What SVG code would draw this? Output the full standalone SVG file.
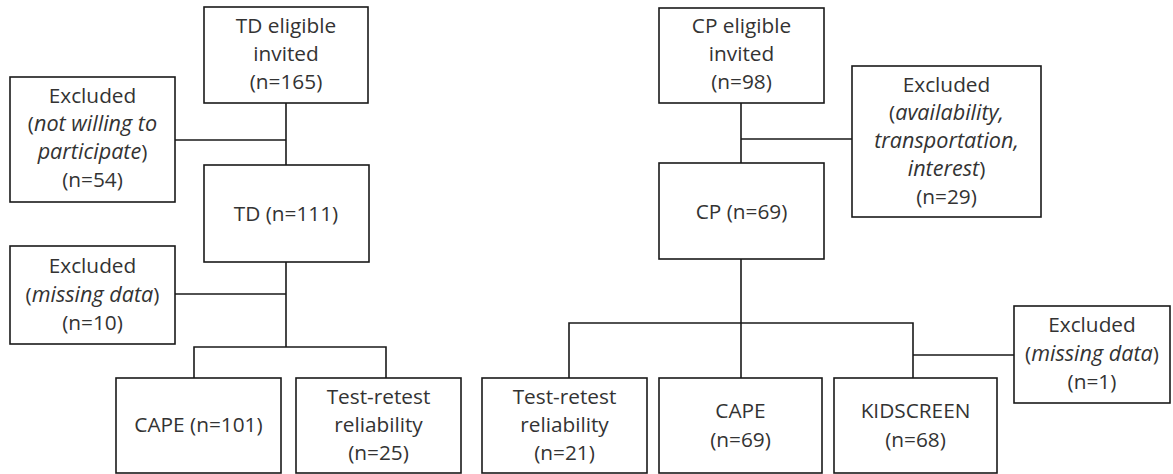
<svg xmlns="http://www.w3.org/2000/svg" width="1173" height="474" viewBox="0 0 1173 474">
<style>
rect{fill:#fff;stroke:#1a1a1a;stroke-width:1.6}
text{font-family:"Open Sans","Liberation Sans",sans-serif;font-size:20.8px;fill:#333;text-anchor:middle}
.i{font-style:italic;font-size:21.6px}
#connectors path{fill:none;stroke:#1a1a1a;stroke-width:1.6}
</style>
<rect width="1173" height="474" style="fill:#fff;stroke:none"/>
<g id="connectors">
<path d="M286 103V165M175 140H286"/>
<path d="M286 262V347M175 294H286M194 378V347H386V378"/>
<path d="M741 103V163M741 139H852"/>
<path d="M741 259V378M569 378V323H913V378M913 355H1014"/>
</g>
<g id="td-invited"><rect x="204" y="7" width="164" height="96"/>
<text x="286" y="33">TD eligible</text><text x="286" y="61">invited</text><text x="286" y="89">(n=165)</text></g>
<g id="td-excluded1"><rect x="10" y="77" width="165" height="125"/>
<text x="92.5" y="103">Excluded</text><text x="92.5" y="131">(<tspan class="i">not willing to</tspan></text><text x="92.5" y="159"><tspan class="i">participate</tspan>)</text><text x="92.5" y="187">(n=54)</text></g>
<g id="td"><rect x="204" y="165" width="165" height="97"/>
<text x="286" y="221">TD (n=111)</text></g>
<g id="td-excluded2"><rect x="10" y="246" width="165" height="98"/>
<text x="92.5" y="273">Excluded</text><text x="92.5" y="302">(<tspan class="i">missing data</tspan>)</text><text x="92.5" y="330">(n=10)</text></g>
<g id="td-cape"><rect x="116" y="378" width="165" height="95"/>
<text x="198.5" y="432">CAPE (n=101)</text></g>
<g id="td-retest"><rect x="296" y="378" width="165" height="95"/>
<text x="378.5" y="404">Test-retest</text><text x="378.5" y="432">reliability</text><text x="378.5" y="460">(n=25)</text></g>
<g id="cp-invited"><rect x="659" y="8" width="165" height="95"/>
<text x="741.5" y="33">CP eligible</text><text x="741.5" y="61">invited</text><text x="741.5" y="89">(n=98)</text></g>
<g id="cp-excluded1"><rect x="852" y="66" width="189" height="151"/>
<text x="946.5" y="92">Excluded</text><text x="946.5" y="120">(<tspan class="i">availability,</tspan></text><text x="946.5" y="148" class="i">transportation,</text><text x="946.5" y="176"><tspan class="i">interest</tspan>)</text><text x="946.5" y="204">(n=29)</text></g>
<g id="cp"><rect x="659" y="163" width="165" height="96"/>
<text x="741.5" y="219">CP (n=69)</text></g>
<g id="cp-retest"><rect x="482" y="378" width="165" height="95"/>
<text x="564.5" y="404">Test-retest</text><text x="564.5" y="432">reliability</text><text x="564.5" y="460">(n=21)</text></g>
<g id="cp-cape"><rect x="659" y="378" width="163" height="95"/>
<text x="740.5" y="418">CAPE</text><text x="740.5" y="447">(n=69)</text></g>
<g id="cp-kidscreen"><rect x="834" y="378" width="163" height="95"/>
<text x="915.5" y="418">KIDSCREEN</text><text x="915.5" y="447">(n=68)</text></g>
<g id="cp-excluded2"><rect x="1014" y="306" width="156" height="97"/>
<text x="1092" y="332">Excluded</text><text x="1092" y="361">(<tspan class="i">missing data</tspan>)</text><text x="1092" y="389">(n=1)</text></g>
</svg>
